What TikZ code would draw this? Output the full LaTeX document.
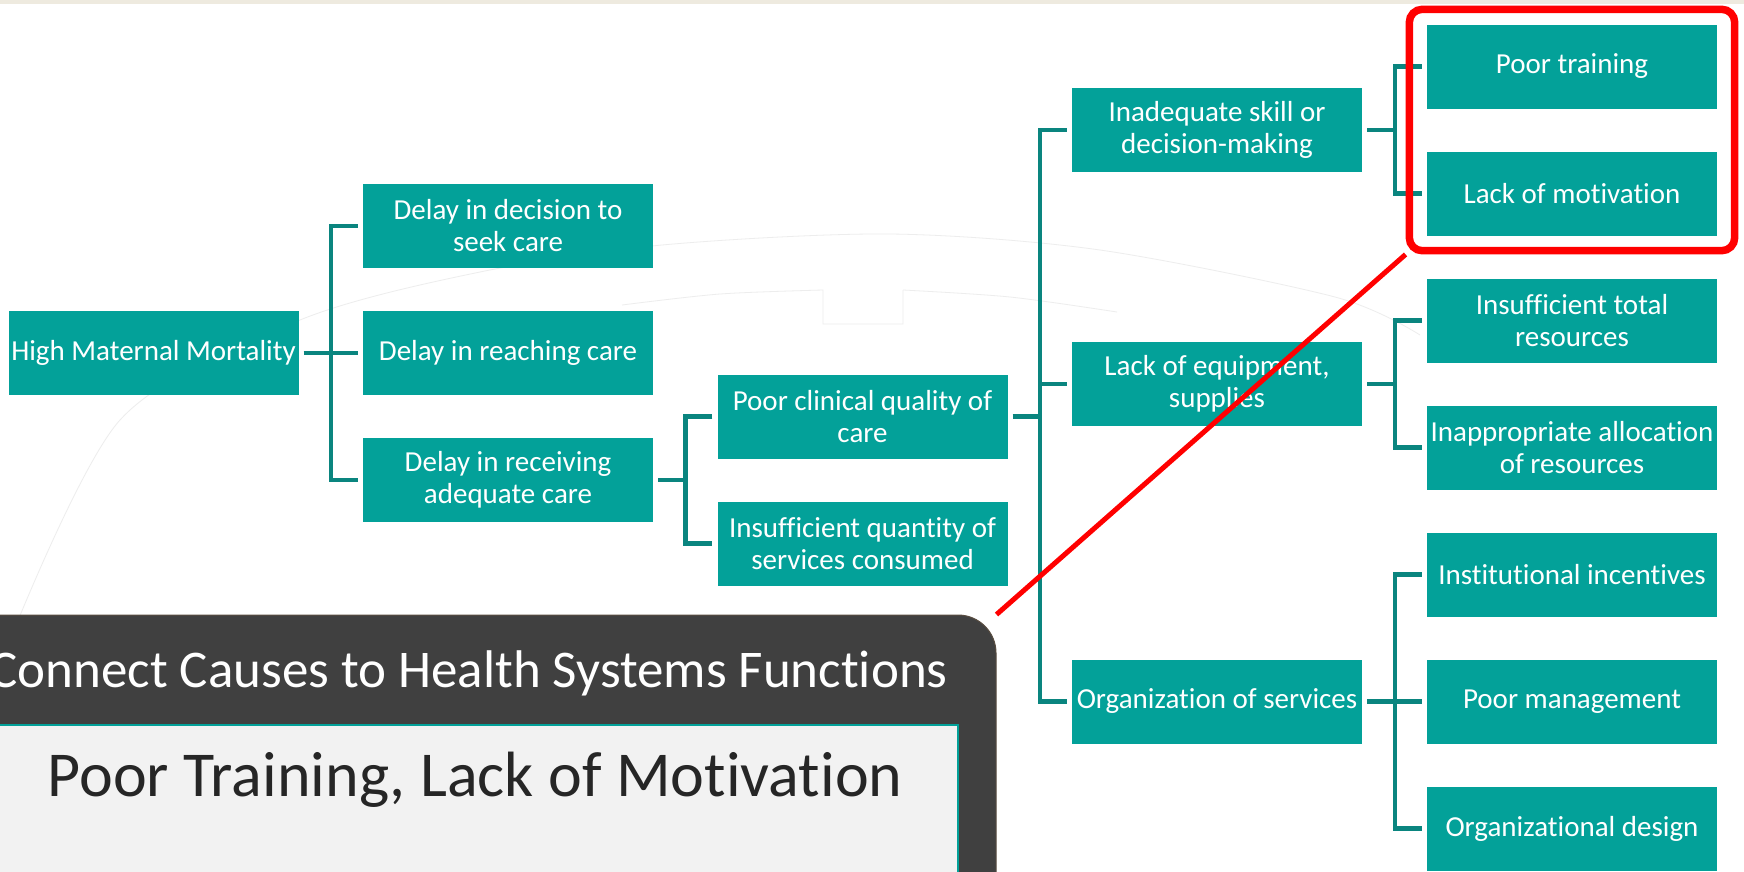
\documentclass[tikz,border=0pt]{standalone}
\usepackage{fontspec}
\setmainfont{Carlito}[RawFeature={-liga}]
\usetikzlibrary{fit}

\definecolor{boxteal}{HTML}{03A199}
\definecolor{linkteal}{HTML}{0A857F}
\definecolor{paneldark}{HTML}{404040}
\definecolor{panellight}{HTML}{F2F2F2}
\definecolor{paneltext}{HTML}{262626}
\definecolor{marker}{HTML}{FF0000}
\definecolor{topstrip}{HTML}{EEEADF}

\tikzset{
  cause/.style={fill=boxteal, text=white, minimum width=290pt, minimum height=84pt,
    align=center, inner sep=0pt, font=\fontsize{29}{32}\selectfont},
  link/.style={draw=linkteal, line width=4.5pt},
  highlight/.style={draw=marker, line width=7.5pt, rounded corners=13pt,
    inner xsep=17.5pt, inner ysep=15pt},
  pointer/.style={draw=marker, line width=5pt},
  watermark/.style={draw=black!7, line width=0.8pt},
  panel/.style={fill=paneldark, draw=paneldark!80!brown, line width=1pt,
    rounded corners=38pt, minimum width=1056pt, minimum height=300pt},
  answerbox/.style={fill=panellight, draw=boxteal, line width=2pt,
    minimum width=1018pt, minimum height=190pt},
}

\begin{document}
\begin{tikzpicture}[x=1pt,y=-1pt]
   \clip (0,0) rectangle (1744,871);
   \fill[white] (0,0) rectangle (1744,871);
   \fill[topstrip] (0,0) rectangle (1744,4);

   % faint logo behind the tree
   \draw[watermark] plot[smooth] coordinates {(10,640) (120,420) (300,320) (480,272) (662,245) (890,234) (1100,250) (1335,297) (1420,335)};
   \draw[watermark] plot[smooth] coordinates {(622,305) (720,294) (823,290)} -- (823,324) -- (903,324) -- (903,290)
      plot[smooth] coordinates {(903,290) (1010,297) (1117,312)};

   % first level
   \node[cause] (mortality) at (153.5,353) {High Maternal Mortality};
   \node[cause] (decide)    at (508,226)   {Delay in decision to\\seek care};
   \node[cause] (reach)     at (508,353)   {Delay in reaching care};
   \node[cause] (receive)   at (508,480)   {Delay in receiving\\adequate care};

   % second level
   \node[cause] (clinical)  at (862.5,416.5) {Poor clinical quality of\\care};
   \node[cause] (quantity)  at (862.5,543.5) {Insufficient quantity of\\services consumed};

   % third level
   \node[cause] (skill)     at (1217,130)   {Inadequate skill or\\decision-making};
   \node[cause] (equip)     at (1217,384)   {Lack of equipment,\\supplies};
   \node[cause] (orgserv)   at (1217,701.5) {Organization of services};

   % fourth level
   \node[cause] (training)   at (1572,66.5)  {Poor training};
   \node[cause] (motivation) at (1572,193.5) {Lack of motivation};
   \node[cause] (totalres)   at (1572,320.5) {Insufficient total\\resources};
   \node[cause] (alloc)      at (1572,447.5) {Inappropriate allocation\\of resources};
   \node[cause] (incent)     at (1572,574.5) {Institutional incentives};
   \node[cause] (mgmt)       at (1572,701.5) {Poor management};
   \node[cause] (design)     at (1572,828.5) {Organizational design};

   % brackets
   \draw[link] ([xshift=5pt]mortality.east) -- ([xshift=-5pt]reach.west);
   \draw[link] ([xshift=-5pt]decide.west) -| ([xshift=-32pt]receive.west) -- ([xshift=-5pt]receive.west);

   \draw[link] ([xshift=5pt]receive.east) -- ++(27,0);
   \draw[link] ([xshift=-5pt]clinical.west) -| ([xshift=-32pt]quantity.west) -- ([xshift=-5pt]quantity.west);

   \draw[link] ([xshift=5pt]clinical.east) -- ++(27,0);
   \draw[link] ([xshift=-5pt]skill.west) -| ([xshift=-32pt]orgserv.west) -- ([xshift=-5pt]orgserv.west);
   \draw[link] ([xshift=-5pt]equip.west) -- ++(-27,0);

   \draw[link] ([xshift=5pt]skill.east) -- ++(27,0);
   \draw[link] ([xshift=-5pt]training.west) -| ([xshift=-32pt]motivation.west) -- ([xshift=-5pt]motivation.west);

   \draw[link] ([xshift=5pt]equip.east) -- ++(27,0);
   \draw[link] ([xshift=-5pt]totalres.west) -| ([xshift=-32pt]alloc.west) -- ([xshift=-5pt]alloc.west);

   \draw[link] ([xshift=5pt]orgserv.east) -- ([xshift=-5pt]mgmt.west);
   \draw[link] ([xshift=-5pt]incent.west) -| ([xshift=-32pt]design.west) -- ([xshift=-5pt]design.west);

   % question panel
   \node[panel] (panel) at (468,765) {};
   \node[anchor=base east, inner sep=0pt, text=white, font=\fontsize{53}{60}\selectfont]
      (heading) at (948,687) {Connect Causes to Health Systems Functions};
   \node[answerbox] (answer) at (449,820) {};
   \node[anchor=base, inner sep=0pt, text=paneltext, font=\fontsize{64}{70}\selectfont]
      (answertext) at (475,796) {Poor Training, Lack of Motivation};

   % highlight
   \node[highlight, fit=(training)(motivation)] (focus) {};
   \draw[pointer] (focus.south west) -- (panel.north east);
\end{tikzpicture}
\end{document}
